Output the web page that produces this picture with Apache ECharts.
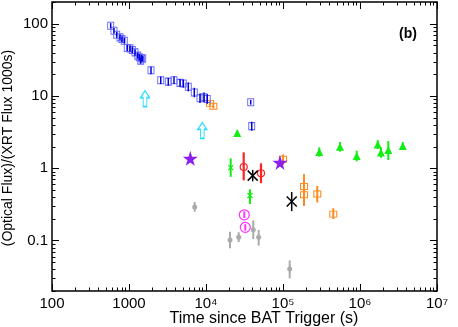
<!DOCTYPE html>
<html><head><meta charset="utf-8">
<script src="https://cdn.jsdelivr.net/npm/echarts@6/dist/echarts.min.js"></script>
<style>html,body{margin:0;padding:0;background:#fff}#c{width:458px;height:327px}</style>
</head><body><div id="c"></div>
<script>
// ---- data: [time (s), ratio, lowErr, highErr] ----
const xTickLabels = ['100', '1000', '10⁴', '10⁵', '10⁶', '10⁷'];
const yTickLabels = ['0.01', '0.1', '1', '10', '100'];

const blueSquares = [
  [578, 94, 86, 102], [638, 80, 73, 87], [692, 70.5, 64, 77], [764, 64.7, 59, 71],
  [811, 61.5, 56, 67], [869, 58.3, 53, 64], [950, 46.2, 42, 51], [1030, 45.6, 41, 50],
  [1104, 43.4, 39, 48], [1197, 40.2, 36, 44], [1297, 36.2, 33, 40], [1361, 34.3, 31, 38],
  [1445, 33.6, 30, 37], [1506, 32.9, 30, 36], [1419, 30.9, 28, 34], [1931, 22.7, 20, 25.5],
  [2582, 16.5, 14.6, 18.6], [3238, 15.8, 13.9, 17.8], [3841, 16.5, 14.6, 18.6], [4594, 15.2, 13.4, 17.2],
  [5073, 14.9, 13.1, 16.9], [5890, 13.4, 11.6, 15.4], [7047, 11.2, 9.6, 13.0], [8356, 9.3, 8.0, 10.8],
  [9420, 9.6, 8.2, 11.2], [10390, 9.1, 7.8, 10.6], [38080, 8.2, 7.6, 8.8], [39230, 3.83, 3.3, 4.4]
];
const orangePts = [
  [11270, 7.9, 7.3, 8.5], [12450, 7.2, 6.7, 7.7], [100000, 1.33, 1.1, 1.55],
  [187500, 0.56, 0.42, 0.83], [187500, 0.43, 0.30, 0.58], [278800, 0.44, 0.336, 0.57],
  [449800, 0.232, 0.198, 0.28]
];
const cyanArrows = [[1614, 9.2], [8954, 3.34]];
const greenTriangles = [
  [25480, 3.07, 2.85, 3.3], [296000, 1.68, 1.45, 1.95], [550000, 1.99, 1.7, 2.3],
  [906000, 1.48, 1.25, 1.75], [1700000, 2.14, 1.85, 2.45], [1870000, 1.65, 1.4, 1.95],
  [2330000, 1.79, 1.3, 2.38], [3590000, 2.03, 1.8, 2.3]
];
const greenCrosses = [[20940, 1.02, 0.76, 1.37], [37240, 0.42, 0.32, 0.51]];
const redCircles = [[30880, 1.04, 0.68, 1.66], [51800, 0.853, 0.62, 1.17]];
const blackStars = [[40400, 0.79, 0.66, 0.95], [129700, 0.347, 0.255, 0.47]];
const purpleStars = [[6250, 1.37, 1.2, 1.55], [91400, 1.2, 1.05, 1.38]];
const magentaCircles = [[31440, 0.227, 0.205, 0.252], [32380, 0.152, 0.137, 0.168]];
const grayDots = [
  [7130, 0.292, 0.25, 0.34], [20500, 0.1016, 0.078, 0.132], [26600, 0.111, 0.095, 0.13],
  [41100, 0.141, 0.105, 0.19], [48300, 0.111, 0.085, 0.14], [122200, 0.0404, 0.03, 0.053]
];

const C = {
  blue: '#6a6aff', blueBar: '#0000dd', orange: '#ff8a1e', cyan: '#22ddff', green: '#11ee11',
  red: '#ff2222', black: '#000000', purple: '#8a1ff0', magenta: '#ff33ff', gray: '#aaaaaa'
};

function errSeries(rows, color, width, z) {
  return {
    type: 'custom', z: z, silent: true,
    data: rows.map(r => [r[0], r[2], r[3]]),
    encode: { x: 0, y: [1, 2] },
    renderItem: (p, api) => {
      const a = api.coord([api.value(0), api.value(1)]);
      const b = api.coord([api.value(0), api.value(2)]);
      return { type: 'line', shape: { x1: a[0], y1: a[1], x2: b[0], y2: b[1] }, style: { stroke: color, lineWidth: width } };
    }
  };
}
function crossSeries(rows, color, half, width, z) {
  return {
    type: 'custom', z: z, silent: true,
    data: rows.map(r => [r[0], r[1]]),
    encode: { x: 0, y: 1 },
    renderItem: (p, api) => {
      const c = api.coord([api.value(0), api.value(1)]);
      return { type: 'group', children: [
        { type: 'line', shape: { x1: c[0] - half, y1: c[1] - half, x2: c[0] + half, y2: c[1] + half }, style: { stroke: color, lineWidth: width } },
        { type: 'line', shape: { x1: c[0] - half, y1: c[1] + half, x2: c[0] + half, y2: c[1] - half }, style: { stroke: color, lineWidth: width } }
      ] };
    }
  };
}
function scat(rows, symbol, size, style, z) {
  return { type: 'scatter', z: z, silent: true, symbol: symbol, symbolSize: size,
    data: rows.map(r => [r[0], r[1]]), itemStyle: Object.assign({ opacity: 1 }, style) };
}
const STAR = 'path://M50,0 L61,35 L98,35 L68,57 L79,91 L50,70 L21,91 L32,57 L2,35 L39,35 Z';
const ARROW = 'path://M5,0 L10,7 L7,7 L7,16 L3,16 L3,7 L0,7 Z';

const tickSeries = {
  type: 'custom', z: 50, silent: true, data: [[1000, 1]], encode: { x: 0, y: 1 },
  renderItem: (p, api) => {
    const ch = [];
    const bl = api.coord([100, 0.02]), tr = api.coord([1e7, 200]);
    const ln = (x1, y1, x2, y2) => ({ type: 'line', shape: { x1, y1, x2, y2 }, style: { stroke: '#000', lineWidth: 1 } });
    for (let e = 2; e <= 7; e++) for (let m = 1; m <= 9; m++) {
      const v = m * Math.pow(10, e); if (v > 1e7 * 1.0001) continue;
      const x = Math.round(api.coord([v, 1])[0]) + 0.5, L = m === 1 ? 7 : 3.5;
      ch.push(ln(x, bl[1], x, bl[1] - L), ln(x, tr[1], x, tr[1] + L));
    }
    for (let e = -2; e <= 2; e++) for (let m = 1; m <= 9; m++) {
      const v = m * Math.pow(10, e); if (v < 0.0199 || v > 200.01) continue;
      const y = Math.round(api.coord([1000, v])[1]) + 0.5, L = m === 1 ? 7 : 3.5;
      ch.push(ln(bl[0], y, bl[0] + L, y), ln(tr[0], y, tr[0] - L, y));
    }
    return { type: 'group', children: ch };
  }
};

const chart = echarts.init(document.getElementById('c'), null, { renderer: 'canvas' });
const isDecade = v => Math.abs(Math.log10(v) - Math.round(Math.log10(v))) < 1e-6;
chart.setOption({
  animation: false,
  grid: { left: 52, right: 21, top: 2, bottom: 36, show: true, borderColor: '#000', borderWidth: 1.5, backgroundColor: 'transparent' },
  xAxis: {
    type: 'log', logBase: 10, min: 100, max: 1e7,
    axisLine: { show: false }, axisTick: { show: false }, splitLine: { show: false },
    axisLabel: { margin: 5, color: '#000', fontSize: 15, fontFamily: '"Liberation Sans Narrow", "Liberation Sans", Arial, sans-serif',
      formatter: v => isDecade(v) ? xTickLabels[Math.round(Math.log10(v)) - 2] : '' }
  },
  yAxis: {
    type: 'log', logBase: 10, min: 0.02, max: 200,
    axisLine: { show: false }, axisTick: { show: false }, splitLine: { show: false },
    axisLabel: { margin: 4, color: '#000', fontSize: 15, fontFamily: '"Liberation Sans", Arial, sans-serif',
      formatter: v => isDecade(v) ? yTickLabels[Math.round(Math.log10(v)) + 2] : '' }
  },
  graphic: [
    { type: 'text', x: 264, y: 319, style: { text: 'Time since BAT Trigger (s)', fill: '#000', fontSize: 16, fontFamily: '"Liberation Sans", Arial, sans-serif', align: 'center', verticalAlign: 'middle' } },
    { type: 'text', x: 8, y: 148, rotation: Math.PI / 2, style: { text: '(Optical Flux)/(XRT Flux 1000s)', fill: '#000', fontSize: 14, fontFamily: '"Liberation Sans", Arial, sans-serif', align: 'center', verticalAlign: 'middle' } },
    { type: 'text', x: 408, y: 34, style: { text: '(b)', fill: '#000', fontSize: 14, fontWeight: 'bold', fontFamily: '"Liberation Sans", Arial, sans-serif', align: 'center', verticalAlign: 'middle' } }
  ],
  series: [
    tickSeries,
    errSeries(grayDots, C.gray, 2, 2), scat(grayDots, 'circle', 5, { color: C.gray }, 3),
    scat(orangePts, 'rect', [7, 6], { color: 'rgba(255,255,255,0)', borderColor: C.orange, borderWidth: 1 }, 4),
    errSeries(orangePts, C.orange, 2, 5),
    scat(blueSquares, 'rect', [6, 7], { color: 'rgba(255,255,255,0)', borderColor: C.blue, borderWidth: 1 }, 6),
    errSeries(blueSquares, C.blueBar, 1.5, 7),
    scat(cyanArrows, ARROW, [9, 16], { color: 'rgba(255,255,255,0)', borderColor: C.cyan, borderWidth: 1.2 }, 8),
    errSeries(greenTriangles, C.green, 2, 9), scat(greenTriangles, 'triangle', 8, { color: C.green }, 10),
    errSeries(greenCrosses, C.green, 2, 11), crossSeries(greenCrosses, C.green, 2.5, 1.2, 12),
    errSeries(redCircles, C.red, 2.2, 13), scat(redCircles, 'circle', 7, { color: 'rgba(255,255,255,0)', borderColor: C.red, borderWidth: 1.2 }, 14),
    errSeries(blackStars, C.black, 1.5, 15), crossSeries(blackStars, C.black, 5, 1.5, 16),
    errSeries(purpleStars, '#b890f0', 2, 17), scat(purpleStars, STAR, 15, { color: C.purple }, 18),
    scat(magentaCircles, 'circle', 10, { color: 'rgba(255,255,255,0)', borderColor: C.magenta, borderWidth: 1.2 }, 19),
    errSeries(magentaCircles, C.magenta, 2, 20)
  ]
});
</script></body></html>
